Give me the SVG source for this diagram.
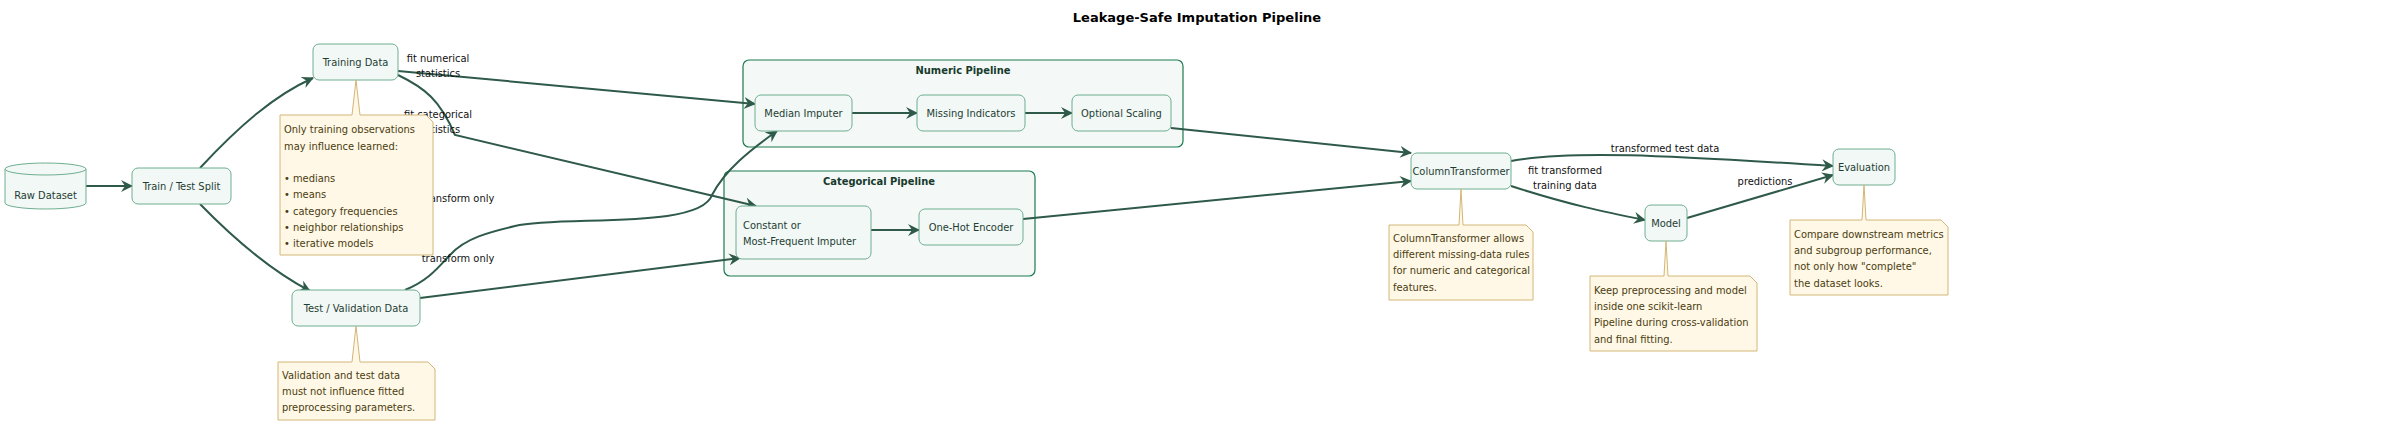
<svg xmlns="http://www.w3.org/2000/svg" width="2395" height="426" viewBox="0 0 2395 426">
<style>
text{font-family:"DejaVu Sans Condensed","DejaVu Sans",sans-serif;font-size:11px}
.n rect,.n path,.n ellipse{fill:#f1f8f5;stroke:#6fae92;stroke-width:1}
.n text{fill:#1f3d33}
.c rect{fill:#f4f8f6;stroke:#1b7a50;stroke-width:1.2}
.c text{fill:#173a2c;font-weight:bold}
.note path{fill:#fff8e6;stroke:#d2b676;stroke-width:1}
.note text{fill:#4a3c10}
.e path{fill:none;stroke:#2f5a4a;stroke-width:2;marker-end:url(#a)}
.lbl{fill:#111}
</style>
<defs><marker id="a" viewBox="0 0 12 12" refX="11" refY="6" markerWidth="12" markerHeight="12" orient="auto" markerUnits="userSpaceOnUse"><path d="M0,0 L12,6 L0,12 L4,6 Z" fill="#2f5a4a"/></marker></defs>
<rect width="2395" height="426" fill="#fff"/>
<text x="1197" y="22" text-anchor="middle" style="font-family:'DejaVu Sans',sans-serif;font-weight:bold;font-size:13px">Leakage-Safe Imputation Pipeline</text>
<g id="cl-num" class="c"><rect x="743" y="60" width="440" height="87" rx="6"/><text x="963" y="74" text-anchor="middle">Numeric Pipeline</text></g>
<g id="cl-cat" class="c"><rect x="724" y="171" width="311" height="105" rx="6"/><text x="879" y="185" text-anchor="middle">Categorical Pipeline</text></g>
<g class="e">
<path d="M86,186 L132,186"/>
<path d="M200,168 C240,125 275,95 313,78"/>
<path d="M200,204 C235,240 270,270 310,291"/>
<path d="M398,71 L755,104"/>
<path d="M398,75 C425,88 440,100 455,135 L756,206"/>
<path d="M405,290 C430,280 440,265 450,255 C465,238 490,232 515,226 C560,215 700,230 712,195 C725,170 750,150 777,131"/>
<path d="M420,298 L740,258"/>
<path d="M852,113 L917,113"/>
<path d="M1025,113 L1072,113"/>
<path d="M871,230 L919,230"/>
<path d="M1171,128 L1411,153"/>
<path d="M1023,219 L1411,181"/>
<path d="M1511,161 C1570,150 1660,155 1833,166"/>
<path d="M1511,186 C1570,205 1605,212 1645,220"/>
<path d="M1687,218 L1833,175"/>
</g>
<g id="edge-labels">
<text class="lbl" x="438" y="62" text-anchor="middle">fit numerical</text><text class="lbl" x="438" y="77" text-anchor="middle">statistics</text>
<text class="lbl" x="438" y="118" text-anchor="middle">fit categorical</text><text class="lbl" x="438" y="133" text-anchor="middle">statistics</text>
<text class="lbl" x="458" y="202" text-anchor="middle">transform only</text>
<text class="lbl" x="458" y="262" text-anchor="middle">transform only</text>
<text class="lbl" x="1665" y="152" text-anchor="middle">transformed test data</text>
<text class="lbl" x="1565" y="174" text-anchor="middle">fit transformed</text><text class="lbl" x="1565" y="189" text-anchor="middle">training data</text>
<text class="lbl" x="1765" y="185" text-anchor="middle">predictions</text>
</g>
<g id="raw" class="n"><path d="M5,169 A40.5,6 0 0 1 86,169 L86,203 A40.5,6 0 0 1 5,203 Z"/><path d="M5,169 A40.5,6 0 0 0 86,169" fill="none"/><text x="45.5" y="199" text-anchor="middle">Raw Dataset</text></g>
<g id="split" class="n"><rect x="132" y="168" width="99" height="36" rx="6"/><text x="181.5" y="190" text-anchor="middle">Train / Test Split</text></g>
<g id="train" class="n"><rect x="313" y="44" width="85" height="36" rx="6"/><text x="355.5" y="66" text-anchor="middle">Training Data</text></g>
<g id="test" class="n"><rect x="292" y="290" width="128" height="36" rx="6"/><text x="356" y="312" text-anchor="middle">Test / Validation Data</text></g>
<g id="median" class="n"><rect x="755" y="95" width="97" height="36" rx="6"/><text x="803.5" y="117" text-anchor="middle">Median Imputer</text></g>
<g id="missing" class="n"><rect x="917" y="95" width="108" height="36" rx="6"/><text x="971" y="117" text-anchor="middle">Missing Indicators</text></g>
<g id="scaling" class="n"><rect x="1072" y="95" width="99" height="36" rx="6"/><text x="1121.5" y="117" text-anchor="middle">Optional Scaling</text></g>
<g id="const" class="n"><rect x="736" y="206" width="135" height="53" rx="6"/><text x="743" y="229">Constant or</text><text x="743" y="245">Most-Frequent Imputer</text></g>
<g id="onehot" class="n"><rect x="919" y="209" width="104" height="36" rx="6"/><text x="971" y="231" text-anchor="middle">One-Hot Encoder</text></g>
<g id="ct" class="n"><rect x="1411" y="153" width="100" height="36" rx="6"/><text x="1461" y="175" text-anchor="middle">ColumnTransformer</text></g>
<g id="model" class="n"><rect x="1645" y="205" width="42" height="36" rx="6"/><text x="1666" y="227" text-anchor="middle">Model</text></g>
<g id="eval" class="n"><rect x="1833" y="149" width="62" height="36" rx="6"/><text x="1864" y="171" text-anchor="middle">Evaluation</text></g>
<g id="note-train" class="note"><path d="M280,115 L352,115 L356,80 L360,115 L426,115 L433,122 L433,255 L280,255 Z"/><text x="284" y="133">Only training observations</text><text x="284" y="150">may influence learned:</text><text x="284" y="182">• medians</text><text x="284" y="198">• means</text><text x="284" y="215">• category frequencies</text><text x="284" y="231">• neighbor relationships</text><text x="284" y="247">• iterative models</text></g>
<g id="note-test" class="note"><path d="M278,362 L352,362 L356,326 L360,362 L428,362 L435,369 L435,420 L278,420 Z"/><text x="282" y="379">Validation and test data</text><text x="282" y="395">must not influence fitted</text><text x="282" y="411">preprocessing parameters.</text></g>
<g id="note-ct" class="note"><path d="M1389,225 L1459,225 L1461,189 L1463,225 L1526,225 L1533,232 L1533,300 L1389,300 Z"/><text x="1393" y="242">ColumnTransformer allows</text><text x="1393" y="258">different missing-data rules</text><text x="1393" y="274">for numeric and categorical</text><text x="1393" y="291">features.</text></g>
<g id="note-model" class="note"><path d="M1590,276 L1664,276 L1666,241 L1668,276 L1750,276 L1757,283 L1757,351 L1590,351 Z"/><text x="1594" y="294">Keep preprocessing and model</text><text x="1594" y="310">inside one scikit-learn</text><text x="1594" y="326">Pipeline during cross-validation</text><text x="1594" y="343">and final fitting.</text></g>
<g id="note-eval" class="note"><path d="M1790,220 L1862,220 L1864,185 L1866,220 L1941,220 L1948,227 L1948,295 L1790,295 Z"/><text x="1794" y="238">Compare downstream metrics</text><text x="1794" y="254">and subgroup performance,</text><text x="1794" y="270">not only how "complete"</text><text x="1794" y="287">the dataset looks.</text></g>
</svg>
